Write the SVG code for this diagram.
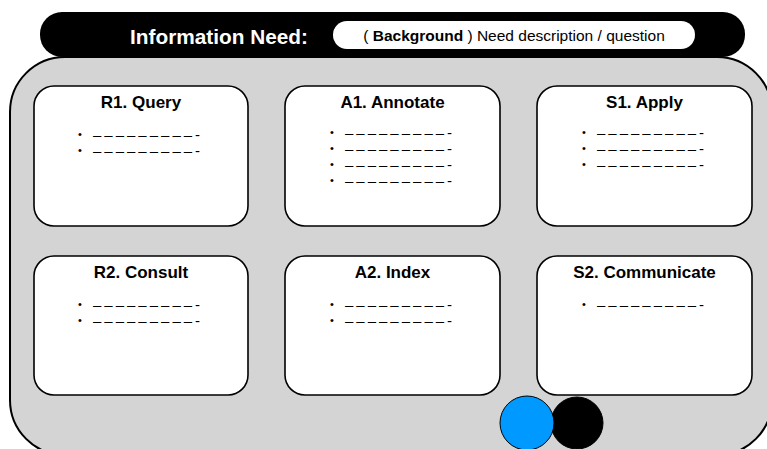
<svg xmlns="http://www.w3.org/2000/svg" width="767" height="449" viewBox="0 0 767 449">
<style>
.box{fill:#fff;stroke:#000;stroke-width:1.6}
.title{font-family:"Liberation Sans",Arial,sans-serif;font-weight:bold;font-size:17px;text-anchor:middle;fill:#000}
.bul{font-family:"Liberation Sans",Arial,sans-serif;font-size:11px;fill:#000}
.dash{font-family:"Liberation Sans",Arial,sans-serif;font-size:15px;letter-spacing:3px;fill:#000}
</style>
<rect width="767" height="449" fill="#fff"/>
<g id="panel">
<rect x="10" y="57" width="762" height="398" rx="55" ry="55" fill="#d4d4d4" stroke="#000" stroke-width="2"/>
</g>
<g id="header">
<rect x="40" y="12" width="705" height="45" rx="22" ry="22" fill="#000"/>
<text x="219" y="44" font-family="'Liberation Sans',Arial,sans-serif" font-weight="bold" font-size="20.8" fill="#fff" text-anchor="middle">Information Need:</text>
<rect x="333" y="21" width="362" height="28" rx="14" ry="14" fill="#fff"/>
<text x="514" y="40.5" font-family="'Liberation Sans',Arial,sans-serif" font-size="15.5" fill="#000" text-anchor="middle">( <tspan font-weight="bold">Background</tspan> )  Need description / question</text>
</g>
<g id="R1">
<rect class="box" x="34" y="86" width="214" height="140" rx="20"/>
<text class="title" x="141" y="108">R1. Query</text>
<text class="bul" x="78" y="138">•</text><text class="dash" x="93" y="139.5">–––––––––-</text>
<text class="bul" x="78" y="154">•</text><text class="dash" x="93" y="155.5">–––––––––-</text>
</g>
<g id="A1">
<rect class="box" x="285" y="86" width="215" height="140" rx="20"/>
<text class="title" x="392.5" y="108">A1. Annotate</text>
<text class="bul" x="330" y="136">•</text><text class="dash" x="345" y="137.5">–––––––––-</text>
<text class="bul" x="330" y="152">•</text><text class="dash" x="345" y="153.5">–––––––––-</text>
<text class="bul" x="330" y="168">•</text><text class="dash" x="345" y="169.5">–––––––––-</text>
<text class="bul" x="330" y="184">•</text><text class="dash" x="345" y="185.5">–––––––––-</text>
</g>
<g id="S1">
<rect class="box" x="537" y="86" width="215" height="140" rx="20"/>
<text class="title" x="644.5" y="108">S1. Apply</text>
<text class="bul" x="582" y="136">•</text><text class="dash" x="597" y="137.5">–––––––––-</text>
<text class="bul" x="582" y="152">•</text><text class="dash" x="597" y="153.5">–––––––––-</text>
<text class="bul" x="582" y="168">•</text><text class="dash" x="597" y="169.5">–––––––––-</text>
</g>
<g id="R2">
<rect class="box" x="34" y="256" width="214" height="139" rx="20"/>
<text class="title" x="141" y="278">R2. Consult</text>
<text class="bul" x="78" y="308">•</text><text class="dash" x="93" y="309.5">–––––––––-</text>
<text class="bul" x="78" y="324">•</text><text class="dash" x="93" y="325.5">–––––––––-</text>
</g>
<g id="A2">
<rect class="box" x="285" y="256" width="215" height="139" rx="20"/>
<text class="title" x="392.5" y="278">A2. Index</text>
<text class="bul" x="330" y="308">•</text><text class="dash" x="345" y="309.5">–––––––––-</text>
<text class="bul" x="330" y="324">•</text><text class="dash" x="345" y="325.5">–––––––––-</text>
</g>
<g id="S2">
<rect class="box" x="537" y="256" width="215" height="139" rx="20"/>
<text class="title" x="644.5" y="278">S2. Communicate</text>
<text class="bul" x="582" y="308">•</text><text class="dash" x="597" y="309.5">–––––––––-</text>
</g>
<g id="circles">
<circle cx="577" cy="423" r="26" fill="#000" stroke="#000" stroke-width="1"/>
<circle cx="527" cy="423" r="27" fill="#0099ff" stroke="#000" stroke-width="1"/>
</g>
<g id="connectors"/>
</svg>
